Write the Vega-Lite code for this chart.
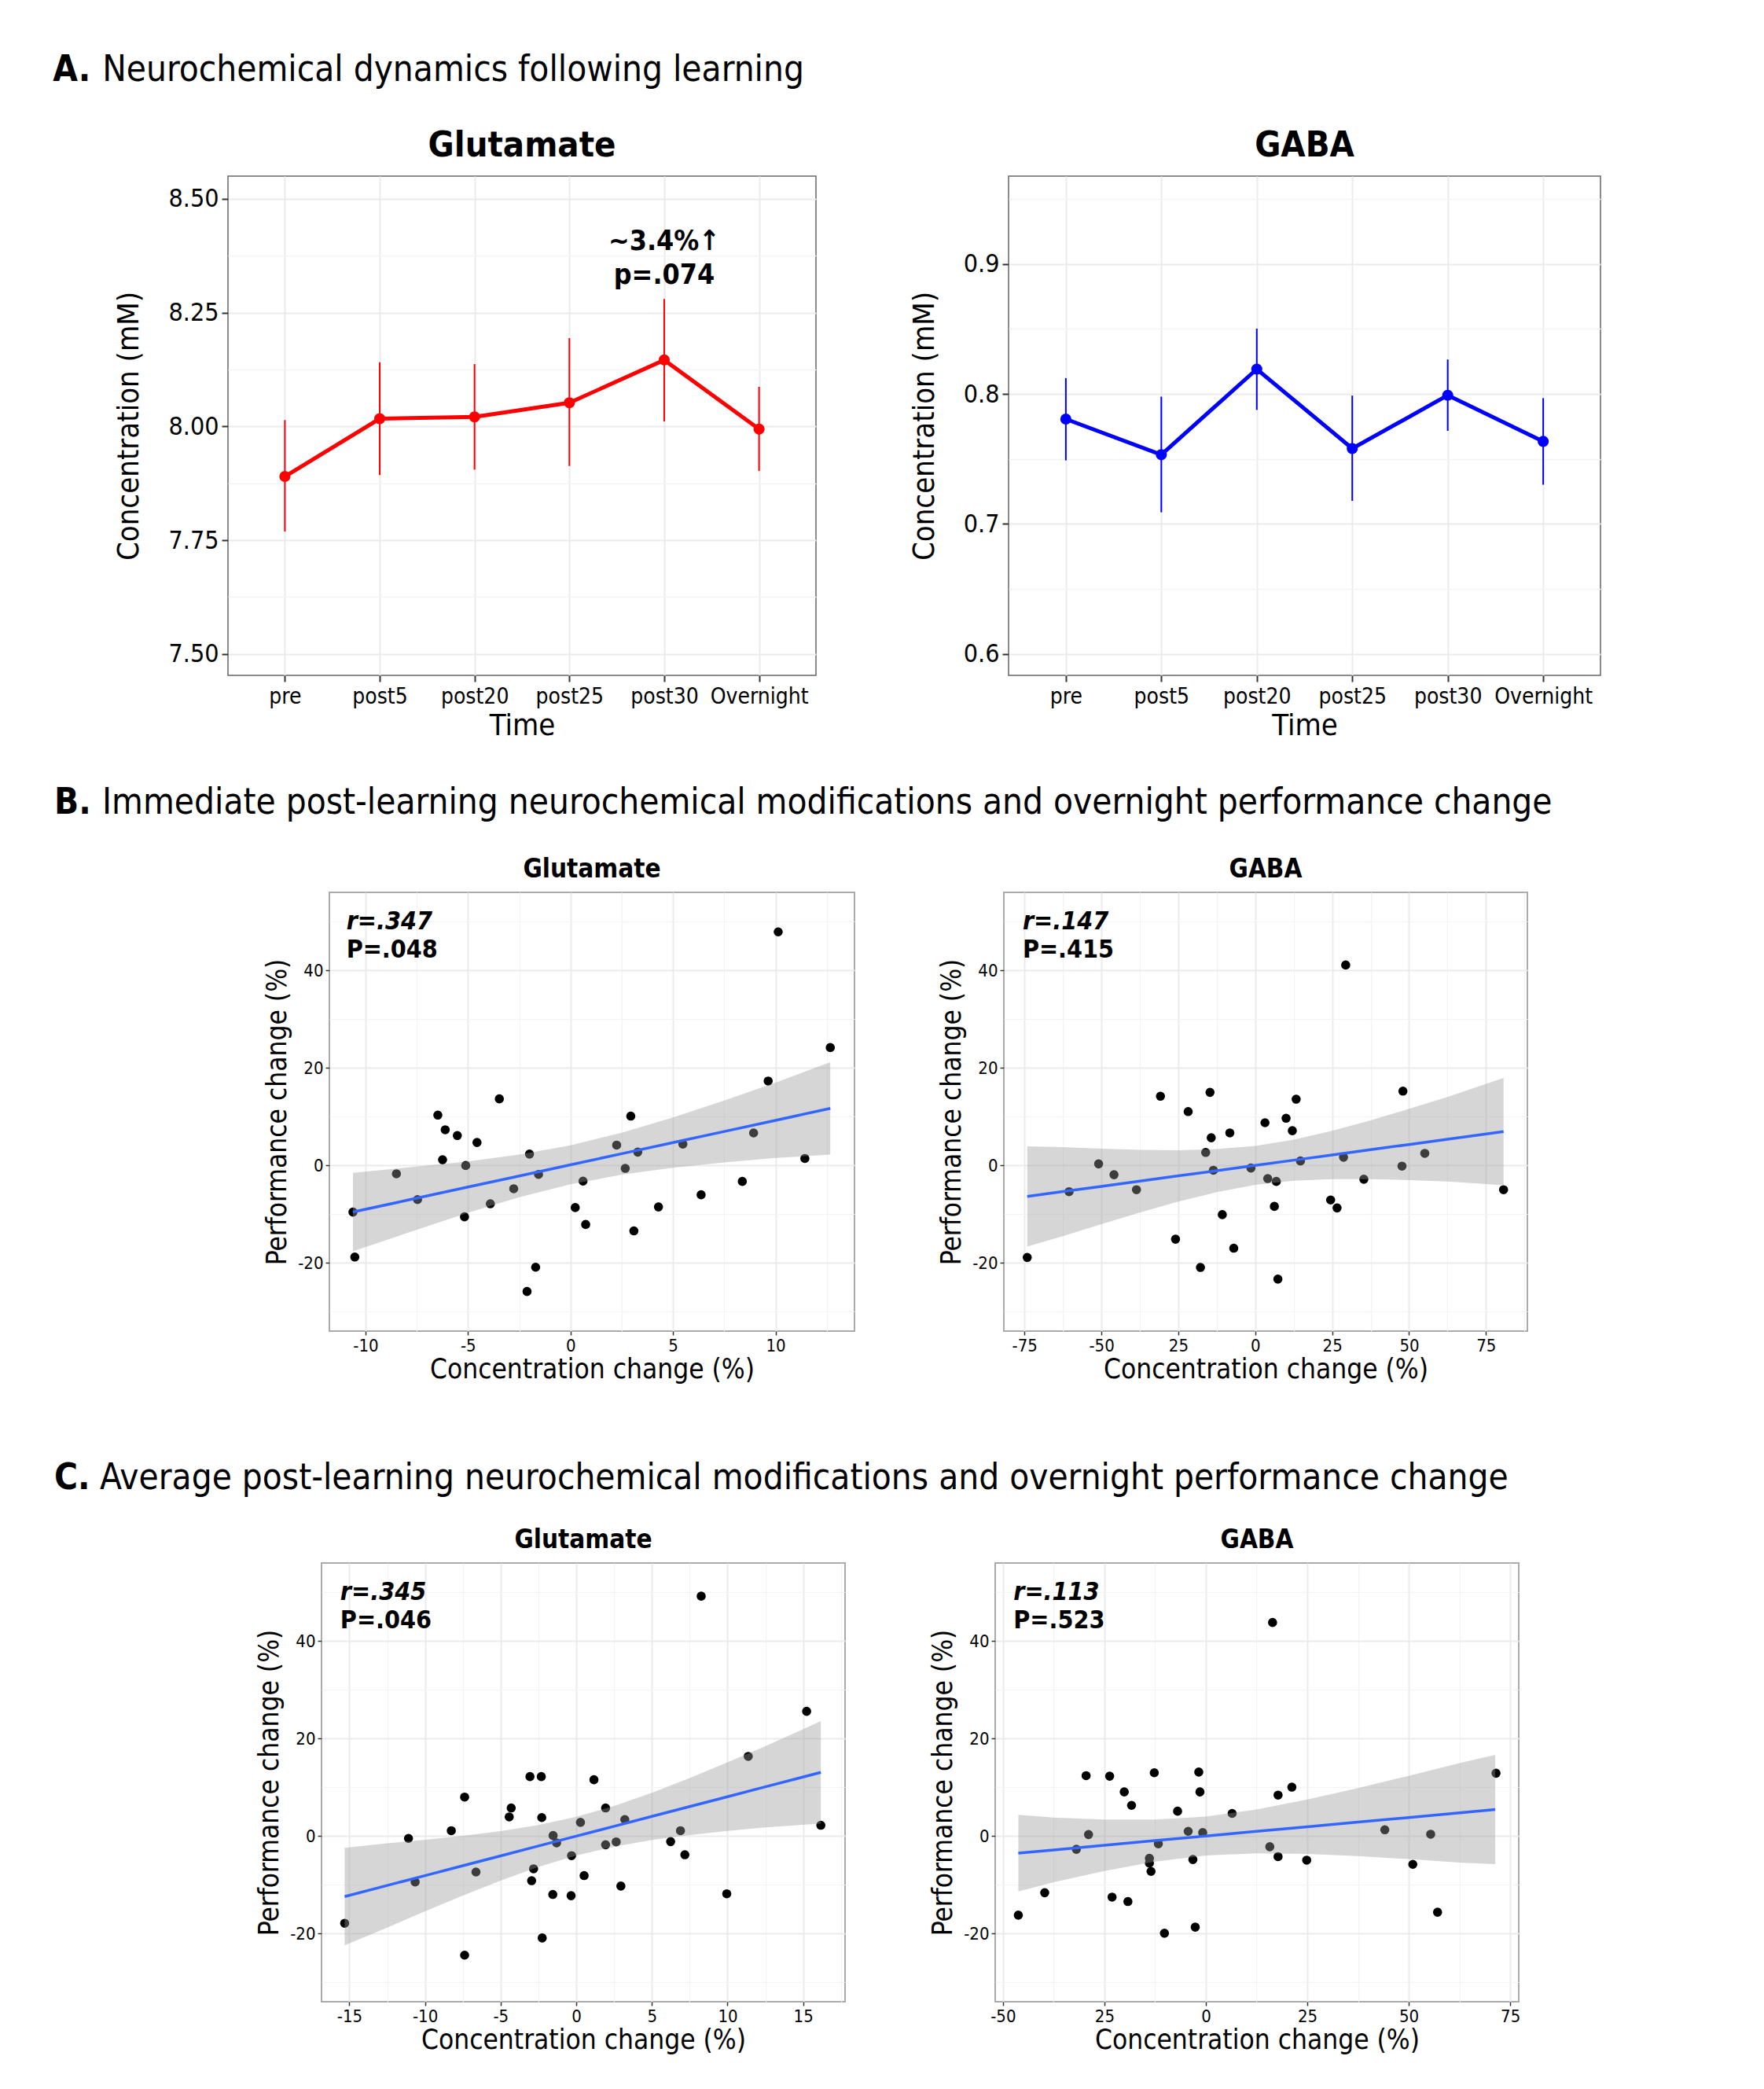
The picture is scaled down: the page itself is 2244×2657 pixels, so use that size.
{
 "$schema": "https://vega.github.io/schema/vega-lite/v6.json",
 "background": "white",
 "padding": {"left": 67, "top": 66, "right": 10, "bottom": 10},
 "columns": 1,
 "spacing": 55,
 "config": {
  "font": "DejaVu Sans Condensed, DejaVu Sans",
  "axis": {"domain": false, "labelColor": "#000", "titleColor": "#000", "titleFontWeight": "normal", "labelOverlap": false, "labelFlush": false, "tickColor": "#333"},
  "title": {"color": "#000"}
 },
 "datasets": {
  "gluA": [
   {"Time": "pre", "mean": 7.890, "lo": 7.769, "hi": 8.014},
   {"Time": "post5", "mean": 8.017, "lo": 7.893, "hi": 8.141},
   {"Time": "post20", "mean": 8.021, "lo": 7.905, "hi": 8.137},
   {"Time": "post25", "mean": 8.052, "lo": 7.913, "hi": 8.194},
   {"Time": "post30", "mean": 8.146, "lo": 8.011, "hi": 8.280},
   {"Time": "Overnight", "mean": 7.994, "lo": 7.902, "hi": 8.087}
  ],
  "gluAnnot": [
   {"Time": "post30", "mean": 8.406, "label": "~3.4%↑"},
   {"Time": "post30", "mean": 8.333, "label": "p=.074"}
  ],
  "gabaA": [
   {"Time": "pre", "mean": 0.7807, "lo": 0.7489, "hi": 0.8122},
   {"Time": "post5", "mean": 0.7533, "lo": 0.709, "hi": 0.7979},
   {"Time": "post20", "mean": 0.8191, "lo": 0.7877, "hi": 0.8502},
   {"Time": "post25", "mean": 0.758, "lo": 0.7178, "hi": 0.7987},
   {"Time": "post30", "mean": 0.799, "lo": 0.7716, "hi": 0.8265},
   {"Time": "Overnight", "mean": 0.7635, "lo": 0.7302, "hi": 0.7968}
  ],
  "gluB": [
   {"x": -10.61, "y": -9.54}, {"x": -10.52, "y": -18.76}, {"x": -8.49, "y": -1.70}, {"x": -7.46, "y": -6.99},
   {"x": -6.47, "y": 10.33}, {"x": -6.11, "y": 7.32}, {"x": -6.24, "y": 1.18}, {"x": -5.52, "y": 6.14},
   {"x": -5.11, "y": 0.0}, {"x": -5.17, "y": -10.52}, {"x": -4.56, "y": 4.71}, {"x": -3.91, "y": -7.84},
   {"x": -3.47, "y": 13.66}, {"x": -2.77, "y": -4.77}, {"x": -2.00, "y": 2.35}, {"x": -1.56, "y": -1.83},
   {"x": -1.70, "y": -20.85}, {"x": -2.12, "y": -25.82}, {"x": 0.23, "y": -8.63}, {"x": 0.61, "y": -3.20},
   {"x": 0.74, "y": -12.09}, {"x": 2.25, "y": 4.18}, {"x": 2.67, "y": -0.59}, {"x": 2.94, "y": 10.13},
   {"x": 3.28, "y": 2.75}, {"x": 3.09, "y": -13.40}, {"x": 4.29, "y": -8.50}, {"x": 5.48, "y": 4.38},
   {"x": 6.37, "y": -6.01}, {"x": 8.38, "y": -3.27}, {"x": 8.93, "y": 6.67}, {"x": 9.64, "y": 17.32},
   {"x": 10.13, "y": 47.9}, {"x": 11.43, "y": 1.44}, {"x": 12.67, "y": 24.18}
  ],
  "gluBfit": [
   {"x": -10.61, "fit": -9.53, "lo": -17.57, "hi": -1.49},
   {"x": -8, "fit": -7.16, "lo": -13.88, "hi": -0.44},
   {"x": -5, "fit": -4.42, "lo": -9.67, "hi": 0.83},
   {"x": -2.5, "fit": -2.14, "lo": -6.50, "hi": 2.22},
   {"x": 0, "fit": 0.14, "lo": -3.86, "hi": 4.14},
   {"x": 2.5, "fit": 2.42, "lo": -1.89, "hi": 6.73},
   {"x": 5, "fit": 4.70, "lo": -0.47, "hi": 9.87},
   {"x": 7.5, "fit": 6.98, "lo": 0.63, "hi": 13.33},
   {"x": 10, "fit": 9.26, "lo": 1.54, "hi": 16.98},
   {"x": 12.67, "fit": 11.70, "lo": 2.22, "hi": 21.18}
  ],
  "gabaB": [
   {"x": -74.1, "y": -18.85}, {"x": -60.5, "y": -5.37}, {"x": -50.9, "y": 0.33}, {"x": -45.9, "y": -1.90},
   {"x": -38.6, "y": -4.97}, {"x": -30.8, "y": 14.2}, {"x": -25.9, "y": -15.1}, {"x": -21.8, "y": 11.06},
   {"x": -17.8, "y": -20.9}, {"x": -16.1, "y": 2.68}, {"x": -14.7, "y": 15.0}, {"x": -14.3, "y": 5.69},
   {"x": -13.6, "y": -0.98}, {"x": -10.7, "y": -10.08}, {"x": -8.25, "y": 6.68}, {"x": -6.98, "y": -16.95},
   {"x": -1.40, "y": -0.52}, {"x": 3.17, "y": 8.77}, {"x": 4.06, "y": -2.68}, {"x": 6.22, "y": -8.38},
   {"x": 6.85, "y": -3.27}, {"x": 7.36, "y": -23.3}, {"x": 10.03, "y": 9.69}, {"x": 12.06, "y": 7.13},
   {"x": 13.3, "y": 13.6}, {"x": 14.7, "y": 0.92}, {"x": 24.5, "y": -7.07}, {"x": 26.6, "y": -8.70},
   {"x": 28.7, "y": 1.70}, {"x": 29.4, "y": 41.1}, {"x": 35.3, "y": -2.81}, {"x": 47.7, "y": -0.13},
   {"x": 48.0, "y": 15.25}, {"x": 55.1, "y": 2.49}, {"x": 80.7, "y": -4.97}
  ],
  "gabaBfit": [
   {"x": -74.1, "fit": -6.35, "lo": -16.62, "hi": 3.92},
   {"x": -62.5, "fit": -5.35, "lo": -14.48, "hi": 3.78},
   {"x": -50, "fit": -4.28, "lo": -12.01, "hi": 3.45},
   {"x": -37.5, "fit": -3.21, "lo": -9.63, "hi": 3.21},
   {"x": -25, "fit": -2.13, "lo": -7.40, "hi": 3.14},
   {"x": -12.5, "fit": -1.06, "lo": -5.47, "hi": 3.35},
   {"x": 0, "fit": 0.02, "lo": -3.98, "hi": 4.02},
   {"x": 12.5, "fit": 1.09, "lo": -3.13, "hi": 5.31},
   {"x": 25, "fit": 2.16, "lo": -2.80, "hi": 7.12},
   {"x": 37.5, "fit": 3.24, "lo": -2.79, "hi": 9.27},
   {"x": 50, "fit": 4.31, "lo": -2.99, "hi": 11.61},
   {"x": 62.5, "fit": 5.38, "lo": -3.30, "hi": 14.06},
   {"x": 80.7, "fit": 6.95, "lo": -4.05, "hi": 17.95}
  ],
  "gluC": [
   {"x": -15.31, "y": -17.86}, {"x": -11.09, "y": -0.46}, {"x": -10.65, "y": -9.39}, {"x": -8.26, "y": 1.12},
   {"x": -7.38, "y": 8.01}, {"x": -7.38, "y": -24.4}, {"x": -6.63, "y": -7.35}, {"x": -4.43, "y": 3.94},
   {"x": -4.30, "y": 5.78}, {"x": -3.06, "y": 12.21}, {"x": -2.95, "y": -9.13}, {"x": -2.82, "y": -6.70},
   {"x": -2.31, "y": 12.21}, {"x": -2.28, "y": 3.81}, {"x": -2.25, "y": -20.88}, {"x": -1.55, "y": -11.95},
   {"x": -1.53, "y": 0.13}, {"x": -1.30, "y": -1.38}, {"x": -0.34, "y": -12.21}, {"x": -0.31, "y": -4.0},
   {"x": 0.28, "y": 2.82}, {"x": 0.52, "y": -8.08}, {"x": 1.17, "y": 11.56}, {"x": 1.94, "y": 5.78},
   {"x": 1.94, "y": -1.77}, {"x": 2.64, "y": -1.18}, {"x": 2.95, "y": -10.24}, {"x": 3.21, "y": 3.41},
   {"x": 6.24, "y": -1.12}, {"x": 6.89, "y": 1.12}, {"x": 7.18, "y": -3.81}, {"x": 8.26, "y": 49.2},
   {"x": 9.95, "y": -11.82}, {"x": 11.37, "y": 16.35}, {"x": 15.23, "y": 25.6}, {"x": 16.17, "y": 2.23}
  ],
  "gluCfit": [
   {"x": -15.31, "fit": -12.39, "lo": -22.39, "hi": -2.39},
   {"x": -12.5, "fit": -10.11, "lo": -18.75, "hi": -1.47},
   {"x": -10, "fit": -8.09, "lo": -15.42, "hi": -0.76},
   {"x": -7.5, "fit": -6.07, "lo": -12.19, "hi": 0.05},
   {"x": -5, "fit": -4.05, "lo": -9.12, "hi": 1.02},
   {"x": -2.5, "fit": -2.02, "lo": -6.31, "hi": 2.27},
   {"x": 0, "fit": 0.0, "lo": -3.96, "hi": 3.96},
   {"x": 2.5, "fit": 2.02, "lo": -2.14, "hi": 6.18},
   {"x": 5, "fit": 4.05, "lo": -0.80, "hi": 8.90},
   {"x": 7.5, "fit": 6.07, "lo": 0.21, "hi": 11.93},
   {"x": 10, "fit": 8.09, "lo": 1.06, "hi": 15.12},
   {"x": 12.5, "fit": 10.11, "lo": 1.79, "hi": 18.43},
   {"x": 16.17, "fit": 13.08, "lo": 2.58, "hi": 23.58}
  ],
  "gabaC": [
   {"x": -46.2, "y": -16.2}, {"x": -39.7, "y": -11.6}, {"x": -31.9, "y": -2.69}, {"x": -29.5, "y": 12.4},
   {"x": -28.9, "y": 0.33}, {"x": -23.7, "y": 12.3}, {"x": -23.1, "y": -12.5}, {"x": -20.1, "y": 9.07},
   {"x": -19.2, "y": -13.4}, {"x": -18.3, "y": 6.31}, {"x": -13.9, "y": -4.53}, {"x": -13.9, "y": -5.52},
   {"x": -13.5, "y": -7.23}, {"x": -12.7, "y": 13.0}, {"x": -11.7, "y": -1.58}, {"x": -10.2, "y": -19.9},
   {"x": -6.96, "y": 5.12}, {"x": -4.35, "y": 0.99}, {"x": -3.19, "y": -4.80}, {"x": -2.61, "y": -18.66},
   {"x": -1.74, "y": 13.14}, {"x": -1.45, "y": 9.07}, {"x": -0.77, "y": 0.72}, {"x": 6.48, "y": 4.66},
   {"x": 15.76, "y": -2.17}, {"x": 16.44, "y": 43.8}, {"x": 17.8, "y": 8.41}, {"x": 17.8, "y": -4.20},
   {"x": 21.2, "y": 10.05}, {"x": 24.85, "y": -4.93}, {"x": 44.1, "y": 1.31}, {"x": 51.0, "y": -5.78},
   {"x": 55.4, "y": 0.39}, {"x": 57.1, "y": -15.6}, {"x": 71.5, "y": 12.9}
  ],
  "gabaCfit": [
   {"x": -46.2, "fit": -3.48, "lo": -11.33, "hi": 4.37},
   {"x": -37.5, "fit": -2.82, "lo": -9.44, "hi": 3.80},
   {"x": -25, "fit": -1.87, "lo": -7.15, "hi": 3.41},
   {"x": -12.5, "fit": -0.92, "lo": -5.23, "hi": 3.39},
   {"x": 0, "fit": 0.03, "lo": -3.97, "hi": 4.03},
   {"x": 12.5, "fit": 0.98, "lo": -3.52, "hi": 5.48},
   {"x": 25, "fit": 1.93, "lo": -3.65, "hi": 7.51},
   {"x": 37.5, "fit": 2.88, "lo": -4.10, "hi": 9.86},
   {"x": 50, "fit": 3.83, "lo": -4.71, "hi": 12.37},
   {"x": 62.5, "fit": 4.78, "lo": -5.42, "hi": 14.98},
   {"x": 71.3, "fit": 5.45, "lo": -5.75, "hi": 16.65}
  ],
  "annot": [
   {"panel": "gluB", "line": "r", "x": -10.93, "y": 50.1, "label": "r=.347"},
   {"panel": "gluB", "line": "P", "x": -10.93, "y": 44.2, "label": "P=.048"},
   {"panel": "gabaB", "line": "r", "x": -75.6, "y": 50.1, "label": "r=.147"},
   {"panel": "gabaB", "line": "P", "x": -75.6, "y": 44.2, "label": "P=.415"},
   {"panel": "gluC", "line": "r", "x": -15.6, "y": 50.1, "label": "r=.345"},
   {"panel": "gluC", "line": "P", "x": -15.6, "y": 44.2, "label": "P=.046"},
   {"panel": "gabaC", "line": "r", "x": -47.4, "y": 50.1, "label": "r=.113"},
   {"panel": "gabaC", "line": "P", "x": -47.4, "y": 44.2, "label": "P=.523"}
  ]
 },
 "concat": [
  {
   "title": {"text": "Neurochemical dynamics following learning", "fontSize": 45.5, "fontWeight": "normal", "anchor": "start", "dx": 63, "dy": 46, "offset": 0},
   "vconcat": [
    {
     "title": {"text": "A.", "fontSize": 45.5, "fontWeight": "bold", "anchor": "start", "dx": -78, "offset": 50},
     "spacing": 117,
     "hconcat": [
      {
       "width": 748, "height": 635,
       "view": {"stroke": "#666666", "strokeWidth": 1.5},
       "title": {"text": "Glutamate", "fontSize": 45, "fontWeight": "bold", "anchor": "middle", "offset": 16},
       "data": {"name": "gluA"},
       "encoding": {
        "x": {"field": "Time", "type": "ordinal", "title": "Time", "sort": ["pre", "post5", "post20", "post25", "post30", "Overnight"],
              "scale": {"type": "point", "padding": 0.6},
              "axis": {"labelAngle": 0, "labelFontSize": 28, "titleFontSize": 38, "grid": true, "gridColor": "#ebebeb", "gridWidth": 2, "tickSize": 8, "tickWidth": 2, "labelPadding": 5, "titlePadding": 4}},
        "y": {"field": "mean", "type": "quantitative", "title": "Concentration (mM)",
              "scale": {"domain": [7.453, 8.55], "nice": false, "zero": false},
              "axis": {"values": [7.5, 7.625, 7.75, 7.875, 8, 8.125, 8.25, 8.375, 8.5],
                       "labelExpr": "round(datum.value*1000) % 250 == 0 ? format(datum.value, '.2f') : ''",
                       "gridColor": {"condition": {"test": "round(datum.value*1000) % 250 == 0", "value": "#ebebeb"}, "value": "#f3f3f3"},
                       "gridWidth": {"condition": {"test": "round(datum.value*1000) % 250 == 0", "value": 2}, "value": 1.3},
                       "tickOpacity": {"condition": {"test": "round(datum.value*1000) % 250 == 0", "value": 1}, "value": 0},
                       "labelFontSize": 32, "titleFontSize": 38, "tickSize": 8, "tickWidth": 2, "labelPadding": 4, "titlePadding": 30}}
       },
       "layer": [
        {"mark": {"type": "rule", "color": "#FF0000", "strokeWidth": 2}, "encoding": {"y": {"field": "lo", "type": "quantitative", "title": "Concentration (mM)"}, "y2": {"field": "hi"}}},
        {"mark": {"type": "line", "color": "#FF0000", "strokeWidth": 5}},
        {"mark": {"type": "circle", "color": "#FF0000", "size": 200, "opacity": 1}},
        {"data": {"name": "gluAnnot"}, "mark": {"type": "text", "fontSize": 35.5, "fontWeight": "bold", "baseline": "middle"}, "encoding": {"text": {"field": "label"}}}
       ]
      },
      {
       "width": 753, "height": 635,
       "view": {"stroke": "#666666", "strokeWidth": 1.5},
       "title": {"text": "GABA", "fontSize": 45, "fontWeight": "bold", "anchor": "middle", "offset": 16},
       "data": {"name": "gabaA"},
       "encoding": {
        "x": {"field": "Time", "type": "ordinal", "title": "Time", "sort": ["pre", "post5", "post20", "post25", "post30", "Overnight"],
              "scale": {"type": "point", "padding": 0.6},
              "axis": {"labelAngle": 0, "labelFontSize": 28, "titleFontSize": 38, "grid": true, "gridColor": "#ebebeb", "gridWidth": 2, "tickSize": 8, "tickWidth": 2, "labelPadding": 5, "titlePadding": 4}},
        "y": {"field": "mean", "type": "quantitative", "title": "Concentration (mM)",
              "scale": {"domain": [0.5836, 0.9675], "nice": false, "zero": false},
              "axis": {"values": [0.6, 0.65, 0.7, 0.75, 0.8, 0.85, 0.9, 0.95],
                       "labelExpr": "round(datum.value*100) % 10 == 0 ? format(datum.value, '.1f') : ''",
                       "gridColor": {"condition": {"test": "round(datum.value*100) % 10 == 0", "value": "#ebebeb"}, "value": "#f3f3f3"},
                       "gridWidth": {"condition": {"test": "round(datum.value*100) % 10 == 0", "value": 2}, "value": 1.3},
                       "tickOpacity": {"condition": {"test": "round(datum.value*100) % 10 == 0", "value": 1}, "value": 0},
                       "labelFontSize": 32, "titleFontSize": 38, "tickSize": 8, "tickWidth": 2, "labelPadding": 4, "titlePadding": 30}}
       },
       "layer": [
        {"mark": {"type": "rule", "color": "#0000FF", "strokeWidth": 2}, "encoding": {"y": {"field": "lo", "type": "quantitative", "title": "Concentration (mM)"}, "y2": {"field": "hi"}}},
        {"mark": {"type": "line", "color": "#0000FF", "strokeWidth": 5}},
        {"mark": {"type": "circle", "color": "#0000FF", "size": 200, "opacity": 1}}
       ]
      }
     ]
    }
   ]
  },
  {
   "columns": 1,
   "spacing": 97,
   "concat": [
    {
     "title": {"text": "Immediate post-learning neurochemical modifications and overnight performance change", "fontSize": 45.5, "fontWeight": "normal", "anchor": "start", "dx": 61, "dy": 46, "offset": 0},
     "vconcat": [
      {
       "title": {"text": "B.", "fontSize": 45.5, "fontWeight": "bold", "anchor": "start", "dx": -221, "offset": 45},
       "spacing": 0,
       "hconcat": [
        {"width": 44, "height": 10, "view": {"stroke": null, "fill": null}, "data": {"values": []}, "mark": "point", "encoding": {}},
        {
         "spacing": 104,
         "hconcat": [
          {
           "width": 668, "height": 558,
           "view": {"stroke": "#aaaaaa", "strokeWidth": 2},
           "title": {"text": "Glutamate", "fontSize": 33, "fontWeight": "bold", "anchor": "middle", "offset": 12},
           "encoding": {
            "x": {"field": "x", "type": "quantitative", "title": "Concentration change (%)",
                  "scale": {"domain": [-11.76, 13.85], "nice": false, "zero": false},
                  "axis": {"values": [-10, -7.5, -5, -2.5, 0, 2.5, 5, 7.5, 10, 12.5],
                           "labelExpr": "datum.value % 5 == 0 ? replace(format(datum.value, 'd'), '−', '-') : ''",
                           "gridColor": {"condition": {"test": "datum.value % 5 == 0", "value": "#ebebeb"}, "value": "#f3f3f3"},
                           "gridWidth": {"condition": {"test": "datum.value % 5 == 0", "value": 2}, "value": 1.2},
                           "tickOpacity": {"condition": {"test": "datum.value % 5 == 0", "value": 1}, "value": 0},
                           "labelFontSize": 22, "titleFontSize": 35, "tickSize": 5, "tickWidth": 1.5, "labelPadding": 3, "titlePadding": 2}},
            "y": {"field": "y", "type": "quantitative", "title": "Performance change (%)",
                  "scale": {"domain": [-33.95, 56], "nice": false, "zero": false},
                  "axis": {"values": [-30, -20, -10, 0, 10, 20, 30, 40, 50],
                           "labelExpr": "datum.value % 20 == 0 ? replace(format(datum.value, 'd'), '−', '-') : ''",
                           "gridColor": {"condition": {"test": "datum.value % 20 == 0", "value": "#ebebeb"}, "value": "#f3f3f3"},
                           "gridWidth": {"condition": {"test": "datum.value % 20 == 0", "value": 2}, "value": 1.2},
                           "tickOpacity": {"condition": {"test": "datum.value % 20 == 0", "value": 1}, "value": 0},
                           "labelFontSize": 22, "titleFontSize": 35, "tickSize": 5, "tickWidth": 1.5, "labelPadding": 3, "titlePadding": 8}}
           },
           "layer": [
            {"data": {"name": "gluB"}, "mark": {"type": "circle", "color": "#000000", "size": 135, "opacity": 1}},
            {"data": {"name": "gluBfit"}, "mark": {"type": "area", "color": "#999999", "opacity": 0.4}, "encoding": {"y": {"field": "lo", "type": "quantitative", "title": "Performance change (%)"}, "y2": {"field": "hi"}}},
            {"data": {"name": "gluBfit"}, "mark": {"type": "line", "color": "#3366FF", "strokeWidth": 3.5}, "encoding": {"y": {"field": "fit", "type": "quantitative", "title": "Performance change (%)"}}},
            {"data": {"name": "annot"}, "transform": [{"filter": "datum.panel == 'gluB' && datum.line == 'r'"}], "mark": {"type": "text", "align": "left", "baseline": "middle", "fontSize": 32, "fontWeight": "bold", "fontStyle": "italic"}, "encoding": {"text": {"field": "label"}}},
            {"data": {"name": "annot"}, "transform": [{"filter": "datum.panel == 'gluB' && datum.line == 'P'"}], "mark": {"type": "text", "align": "left", "baseline": "middle", "fontSize": 32, "fontWeight": "bold"}, "encoding": {"text": {"field": "label"}}}
           ]
          },
          {
           "width": 666, "height": 558,
           "view": {"stroke": "#aaaaaa", "strokeWidth": 2},
           "title": {"text": "GABA", "fontSize": 33, "fontWeight": "bold", "anchor": "middle", "offset": 12},
           "encoding": {
            "x": {"field": "x", "type": "quantitative", "title": "Concentration change (%)",
                  "scale": {"domain": [-81.7, 88.45], "nice": false, "zero": false},
                  "axis": {"values": [-75, -62.5, -50, -37.5, -25, -12.5, 0, 12.5, 25, 37.5, 50, 62.5, 75, 87.5],
                           "labelExpr": "datum.value % 25 != 0 ? '' : (datum.value == -25 ? '25' : replace(format(datum.value, 'd'), '−', '-'))",
                           "gridColor": {"condition": {"test": "datum.value % 25 == 0", "value": "#ebebeb"}, "value": "#f3f3f3"},
                           "gridWidth": {"condition": {"test": "datum.value % 25 == 0", "value": 2}, "value": 1.2},
                           "tickOpacity": {"condition": {"test": "datum.value % 25 == 0", "value": 1}, "value": 0},
                           "labelFontSize": 22, "titleFontSize": 35, "tickSize": 5, "tickWidth": 1.5, "labelPadding": 3, "titlePadding": 2}},
            "y": {"field": "y", "type": "quantitative", "title": "Performance change (%)",
                  "scale": {"domain": [-33.95, 56], "nice": false, "zero": false},
                  "axis": {"values": [-30, -20, -10, 0, 10, 20, 30, 40, 50],
                           "labelExpr": "datum.value % 20 == 0 ? replace(format(datum.value, 'd'), '−', '-') : ''",
                           "gridColor": {"condition": {"test": "datum.value % 20 == 0", "value": "#ebebeb"}, "value": "#f3f3f3"},
                           "gridWidth": {"condition": {"test": "datum.value % 20 == 0", "value": 2}, "value": 1.2},
                           "tickOpacity": {"condition": {"test": "datum.value % 20 == 0", "value": 1}, "value": 0},
                           "labelFontSize": 22, "titleFontSize": 35, "tickSize": 5, "tickWidth": 1.5, "labelPadding": 3, "titlePadding": 8}}
           },
           "layer": [
            {"data": {"name": "gabaB"}, "mark": {"type": "circle", "color": "#000000", "size": 135, "opacity": 1}},
            {"data": {"name": "gabaBfit"}, "mark": {"type": "area", "color": "#999999", "opacity": 0.4}, "encoding": {"y": {"field": "lo", "type": "quantitative", "title": "Performance change (%)"}, "y2": {"field": "hi"}}},
            {"data": {"name": "gabaBfit"}, "mark": {"type": "line", "color": "#3366FF", "strokeWidth": 3.5}, "encoding": {"y": {"field": "fit", "type": "quantitative", "title": "Performance change (%)"}}},
            {"data": {"name": "annot"}, "transform": [{"filter": "datum.panel == 'gabaB' && datum.line == 'r'"}], "mark": {"type": "text", "align": "left", "baseline": "middle", "fontSize": 32, "fontWeight": "bold", "fontStyle": "italic"}, "encoding": {"text": {"field": "label"}}},
            {"data": {"name": "annot"}, "transform": [{"filter": "datum.panel == 'gabaB' && datum.line == 'P'"}], "mark": {"type": "text", "align": "left", "baseline": "middle", "fontSize": 32, "fontWeight": "bold"}, "encoding": {"text": {"field": "label"}}}
           ]
          }
         ]
        }
       ]
      }
     ]
    },
    {
     "title": {"text": "Average post-learning neurochemical modifications and overnight performance change", "fontSize": 45.5, "fontWeight": "normal", "anchor": "start", "dx": 58, "dy": 46, "offset": 0},
     "vconcat": [
      {
       "title": {"text": "C.", "fontSize": 45.5, "fontWeight": "bold", "anchor": "start", "dx": -221, "offset": 39},
       "spacing": 0,
       "hconcat": [
        {"width": 34, "height": 10, "view": {"stroke": null, "fill": null}, "data": {"values": []}, "mark": "point", "encoding": {}},
        {
         "spacing": 105,
         "hconcat": [
          {
           "width": 666, "height": 558,
           "view": {"stroke": "#aaaaaa", "strokeWidth": 2},
           "title": {"text": "Glutamate", "fontSize": 33, "fontWeight": "bold", "anchor": "middle", "offset": 12},
           "encoding": {
            "x": {"field": "x", "type": "quantitative", "title": "Concentration change (%)",
                  "scale": {"domain": [-16.84, 17.77], "nice": false, "zero": false},
                  "axis": {"values": [-15, -12.5, -10, -7.5, -5, -2.5, 0, 2.5, 5, 7.5, 10, 12.5, 15, 17.5],
                           "labelExpr": "datum.value % 5 == 0 ? replace(format(datum.value, 'd'), '−', '-') : ''",
                           "gridColor": {"condition": {"test": "datum.value % 5 == 0", "value": "#ebebeb"}, "value": "#f3f3f3"},
                           "gridWidth": {"condition": {"test": "datum.value % 5 == 0", "value": 2}, "value": 1.2},
                           "tickOpacity": {"condition": {"test": "datum.value % 5 == 0", "value": 1}, "value": 0},
                           "labelFontSize": 22, "titleFontSize": 35, "tickSize": 5, "tickWidth": 1.5, "labelPadding": 3, "titlePadding": 2}},
            "y": {"field": "y", "type": "quantitative", "title": "Performance change (%)",
                  "scale": {"domain": [-33.95, 56], "nice": false, "zero": false},
                  "axis": {"values": [-30, -20, -10, 0, 10, 20, 30, 40, 50],
                           "labelExpr": "datum.value % 20 == 0 ? replace(format(datum.value, 'd'), '−', '-') : ''",
                           "gridColor": {"condition": {"test": "datum.value % 20 == 0", "value": "#ebebeb"}, "value": "#f3f3f3"},
                           "gridWidth": {"condition": {"test": "datum.value % 20 == 0", "value": 2}, "value": 1.2},
                           "tickOpacity": {"condition": {"test": "datum.value % 20 == 0", "value": 1}, "value": 0},
                           "labelFontSize": 22, "titleFontSize": 35, "tickSize": 5, "tickWidth": 1.5, "labelPadding": 3, "titlePadding": 8}}
           },
           "layer": [
            {"data": {"name": "gluC"}, "mark": {"type": "circle", "color": "#000000", "size": 135, "opacity": 1}},
            {"data": {"name": "gluCfit"}, "mark": {"type": "area", "color": "#999999", "opacity": 0.4}, "encoding": {"y": {"field": "lo", "type": "quantitative", "title": "Performance change (%)"}, "y2": {"field": "hi"}}},
            {"data": {"name": "gluCfit"}, "mark": {"type": "line", "color": "#3366FF", "strokeWidth": 3.5}, "encoding": {"y": {"field": "fit", "type": "quantitative", "title": "Performance change (%)"}}},
            {"data": {"name": "annot"}, "transform": [{"filter": "datum.panel == 'gluC' && datum.line == 'r'"}], "mark": {"type": "text", "align": "left", "baseline": "middle", "fontSize": 32, "fontWeight": "bold", "fontStyle": "italic"}, "encoding": {"text": {"field": "label"}}},
            {"data": {"name": "annot"}, "transform": [{"filter": "datum.panel == 'gluC' && datum.line == 'P'"}], "mark": {"type": "text", "align": "left", "baseline": "middle", "fontSize": 32, "fontWeight": "bold"}, "encoding": {"text": {"field": "label"}}}
           ]
          },
          {
           "width": 666, "height": 558,
           "view": {"stroke": "#aaaaaa", "strokeWidth": 2},
           "title": {"text": "GABA", "fontSize": 33, "fontWeight": "bold", "anchor": "middle", "offset": 12},
           "encoding": {
            "x": {"field": "x", "type": "quantitative", "title": "Concentration change (%)",
                  "scale": {"domain": [-51.9, 77.1], "nice": false, "zero": false},
                  "axis": {"values": [-50, -37.5, -25, -12.5, 0, 12.5, 25, 37.5, 50, 62.5, 75],
                           "labelExpr": "datum.value % 25 != 0 ? '' : (datum.value == -25 ? '25' : replace(format(datum.value, 'd'), '−', '-'))",
                           "gridColor": {"condition": {"test": "datum.value % 25 == 0", "value": "#ebebeb"}, "value": "#f3f3f3"},
                           "gridWidth": {"condition": {"test": "datum.value % 25 == 0", "value": 2}, "value": 1.2},
                           "tickOpacity": {"condition": {"test": "datum.value % 25 == 0", "value": 1}, "value": 0},
                           "labelFontSize": 22, "titleFontSize": 35, "tickSize": 5, "tickWidth": 1.5, "labelPadding": 3, "titlePadding": 2}},
            "y": {"field": "y", "type": "quantitative", "title": "Performance change (%)",
                  "scale": {"domain": [-33.95, 56], "nice": false, "zero": false},
                  "axis": {"values": [-30, -20, -10, 0, 10, 20, 30, 40, 50],
                           "labelExpr": "datum.value % 20 == 0 ? replace(format(datum.value, 'd'), '−', '-') : ''",
                           "gridColor": {"condition": {"test": "datum.value % 20 == 0", "value": "#ebebeb"}, "value": "#f3f3f3"},
                           "gridWidth": {"condition": {"test": "datum.value % 20 == 0", "value": 2}, "value": 1.2},
                           "tickOpacity": {"condition": {"test": "datum.value % 20 == 0", "value": 1}, "value": 0},
                           "labelFontSize": 22, "titleFontSize": 35, "tickSize": 5, "tickWidth": 1.5, "labelPadding": 3, "titlePadding": 8}}
           },
           "layer": [
            {"data": {"name": "gabaC"}, "mark": {"type": "circle", "color": "#000000", "size": 135, "opacity": 1}},
            {"data": {"name": "gabaCfit"}, "mark": {"type": "area", "color": "#999999", "opacity": 0.4}, "encoding": {"y": {"field": "lo", "type": "quantitative", "title": "Performance change (%)"}, "y2": {"field": "hi"}}},
            {"data": {"name": "gabaCfit"}, "mark": {"type": "line", "color": "#3366FF", "strokeWidth": 3.5}, "encoding": {"y": {"field": "fit", "type": "quantitative", "title": "Performance change (%)"}}},
            {"data": {"name": "annot"}, "transform": [{"filter": "datum.panel == 'gabaC' && datum.line == 'r'"}], "mark": {"type": "text", "align": "left", "baseline": "middle", "fontSize": 32, "fontWeight": "bold", "fontStyle": "italic"}, "encoding": {"text": {"field": "label"}}},
            {"data": {"name": "annot"}, "transform": [{"filter": "datum.panel == 'gabaC' && datum.line == 'P'"}], "mark": {"type": "text", "align": "left", "baseline": "middle", "fontSize": 32, "fontWeight": "bold"}, "encoding": {"text": {"field": "label"}}}
           ]
          }
         ]
        }
       ]
      }
     ]
    }
   ]
  }
 ]
}
